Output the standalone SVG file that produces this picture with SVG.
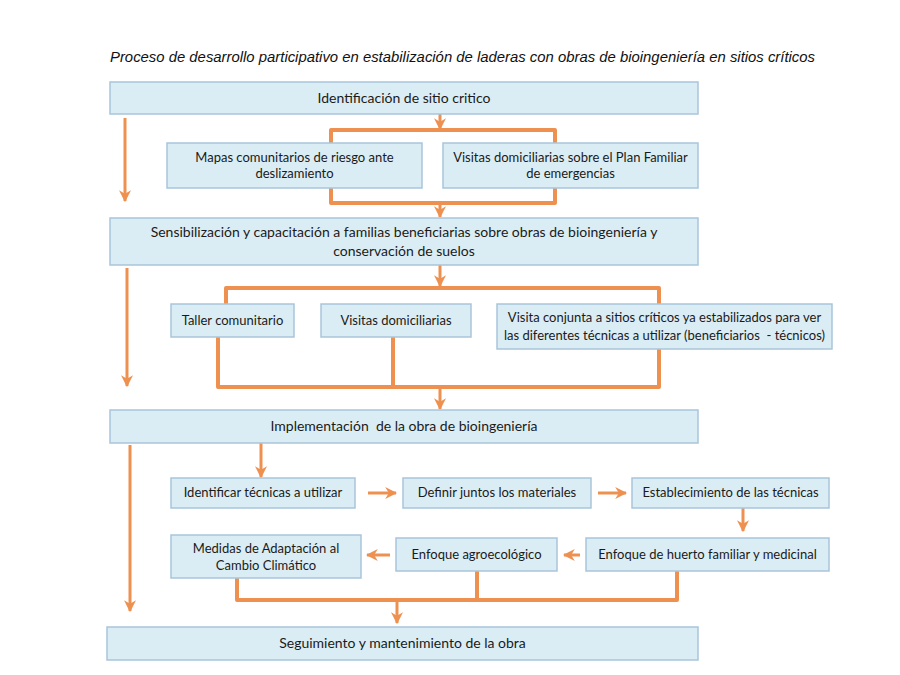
<svg xmlns="http://www.w3.org/2000/svg" width="900" height="675" viewBox="0 0 900 675">
<style>
.box{fill:#dbedf4;stroke:#a9c5db;stroke-width:1.5}
.t{font-family:Lato,"Open Sans",sans-serif;font-size:14px;fill:#1a1a1a;text-anchor:middle;white-space:pre}
.s{font-size:13px}
.title{font-family:"Liberation Sans",Arial,sans-serif;font-style:italic;font-size:14.5px;fill:#111}
.c{fill:none;stroke:#ee9150;stroke-width:4;stroke-linejoin:round;stroke-linecap:butt}
.a{fill:none;stroke:#ee9150;stroke-width:3}
</style>
<defs>
<marker id="ah" viewBox="0 0 10 10" refX="9" refY="5" markerWidth="4" markerHeight="4" orient="auto" markerUnits="strokeWidth">
<path d="M0,0 L10,5 L0,10 L3,5 Z" fill="#ee9150"/>
</marker>
</defs>
<rect width="900" height="675" fill="#ffffff"/>
<text class="title" x="110" y="62" textLength="705" lengthAdjust="spacingAndGlyphs">Proceso de desarrollo participativo en estabilización de laderas con obras de bioingeniería en sitios críticos</text>

<g id="connectors">
<line class="a" x1="125" y1="118" x2="125" y2="201" marker-end="url(#ah)"/>
<line class="a" x1="127" y1="268" x2="127" y2="386" marker-end="url(#ah)"/>
<line class="a" x1="130" y1="445" x2="130" y2="611" marker-end="url(#ah)"/>

<line class="a" x1="440" y1="114" x2="440" y2="129" marker-end="url(#ah)"/>
<path class="c" d="M331,143 V130 H555 V143"/>
<path class="c" d="M331,188 V203 H555 V188"/>
<line class="a" x1="440" y1="203" x2="440" y2="217" marker-end="url(#ah)"/>

<line class="a" x1="440" y1="265" x2="440" y2="286" marker-end="url(#ah)"/>
<path class="c" d="M226,304 V288 H659 V304"/>
<path class="c" d="M218,337 V387 H659 V349"/>
<line class="c" x1="393" y1="337" x2="393" y2="387"/>
<line class="a" x1="440" y1="387" x2="440" y2="409" marker-end="url(#ah)"/>

<line class="a" x1="261" y1="443" x2="261" y2="477" marker-end="url(#ah)"/>
<line class="a" x1="368" y1="493" x2="396" y2="493" marker-end="url(#ah)"/>
<line class="a" x1="598" y1="493" x2="626" y2="493" marker-end="url(#ah)"/>
<line class="a" x1="743" y1="508" x2="743" y2="531" marker-end="url(#ah)"/>
<line class="a" x1="580" y1="555" x2="564" y2="555" marker-end="url(#ah)"/>
<line class="a" x1="390" y1="555" x2="367" y2="555" marker-end="url(#ah)"/>

<path class="c" d="M237,578 V600 H677 V571"/>
<line class="c" x1="477" y1="571" x2="477" y2="600"/>
<line class="a" x1="397" y1="600" x2="397" y2="623" marker-end="url(#ah)"/>
</g>

<g id="n1"><rect class="box" x="110" y="82" width="588" height="32"/><text class="t" x="404" y="103">Identificación de sitio critico</text></g>
<g id="n2"><rect class="box" x="167" y="143" width="255" height="45"/><text class="t s" x="294.5" y="162">Mapas comunitarios de riesgo ante</text><text class="t s" x="294.5" y="178">deslizamiento</text></g>
<g id="n3"><rect class="box" x="443" y="143" width="255" height="45"/><text class="t s" x="570.5" y="162">Visitas domiciliarias sobre el Plan Familiar</text><text class="t s" x="570.5" y="178">de emergencias</text></g>
<g id="n4"><rect class="box" x="110" y="218" width="588" height="47"/><text class="t" x="404" y="237">Sensibilización y capacitación a familias beneficiarias sobre obras de bioingeniería y</text><text class="t" x="404" y="256">conservación de suelos</text></g>
<g id="n5"><rect class="box" x="171" y="304" width="123" height="33"/><text class="t s" x="232.5" y="325">Taller comunitario</text></g>
<g id="n6"><rect class="box" x="321" y="304" width="150" height="33"/><text class="t s" x="396" y="325">Visitas domiciliarias</text></g>
<g id="n7"><rect class="box" x="497" y="304" width="335" height="45"/><text class="t s" x="664.5" y="322">Visita conjunta a sitios críticos ya estabilizados para ver</text><text class="t s" x="664.5" y="340">las diferentes técnicas a utilizar (beneficiarios  - técnicos)</text></g>
<g id="n8"><rect class="box" x="110" y="410" width="588" height="33"/><text class="t" x="404" y="431">Implementación  de la obra de bioingeniería</text></g>
<g id="n9"><rect class="box" x="171" y="478" width="184" height="30"/><text class="t s" x="263" y="497">Identificar técnicas a utilizar</text></g>
<g id="n10"><rect class="box" x="403" y="478" width="188" height="30"/><text class="t s" x="497" y="497">Definir juntos los materiales</text></g>
<g id="n11"><rect class="box" x="632" y="478" width="197" height="30"/><text class="t s" x="730.5" y="497">Establecimiento de las técnicas</text></g>
<g id="n12"><rect class="box" x="171" y="535" width="190" height="43"/><text class="t s" x="266" y="553">Medidas de Adaptación al</text><text class="t s" x="266" y="570">Cambio Climático</text></g>
<g id="n13"><rect class="box" x="396" y="538" width="161" height="33"/><text class="t s" x="476.5" y="559">Enfoque agroecológico</text></g>
<g id="n14"><rect class="box" x="586" y="538" width="243" height="33"/><text class="t s" x="707.5" y="559">Enfoque de huerto familiar y medicinal</text></g>
<g id="n15"><rect class="box" x="107" y="627" width="591" height="33"/><text class="t" x="402.5" y="648">Seguimiento y mantenimiento de la obra</text></g>
</svg>
